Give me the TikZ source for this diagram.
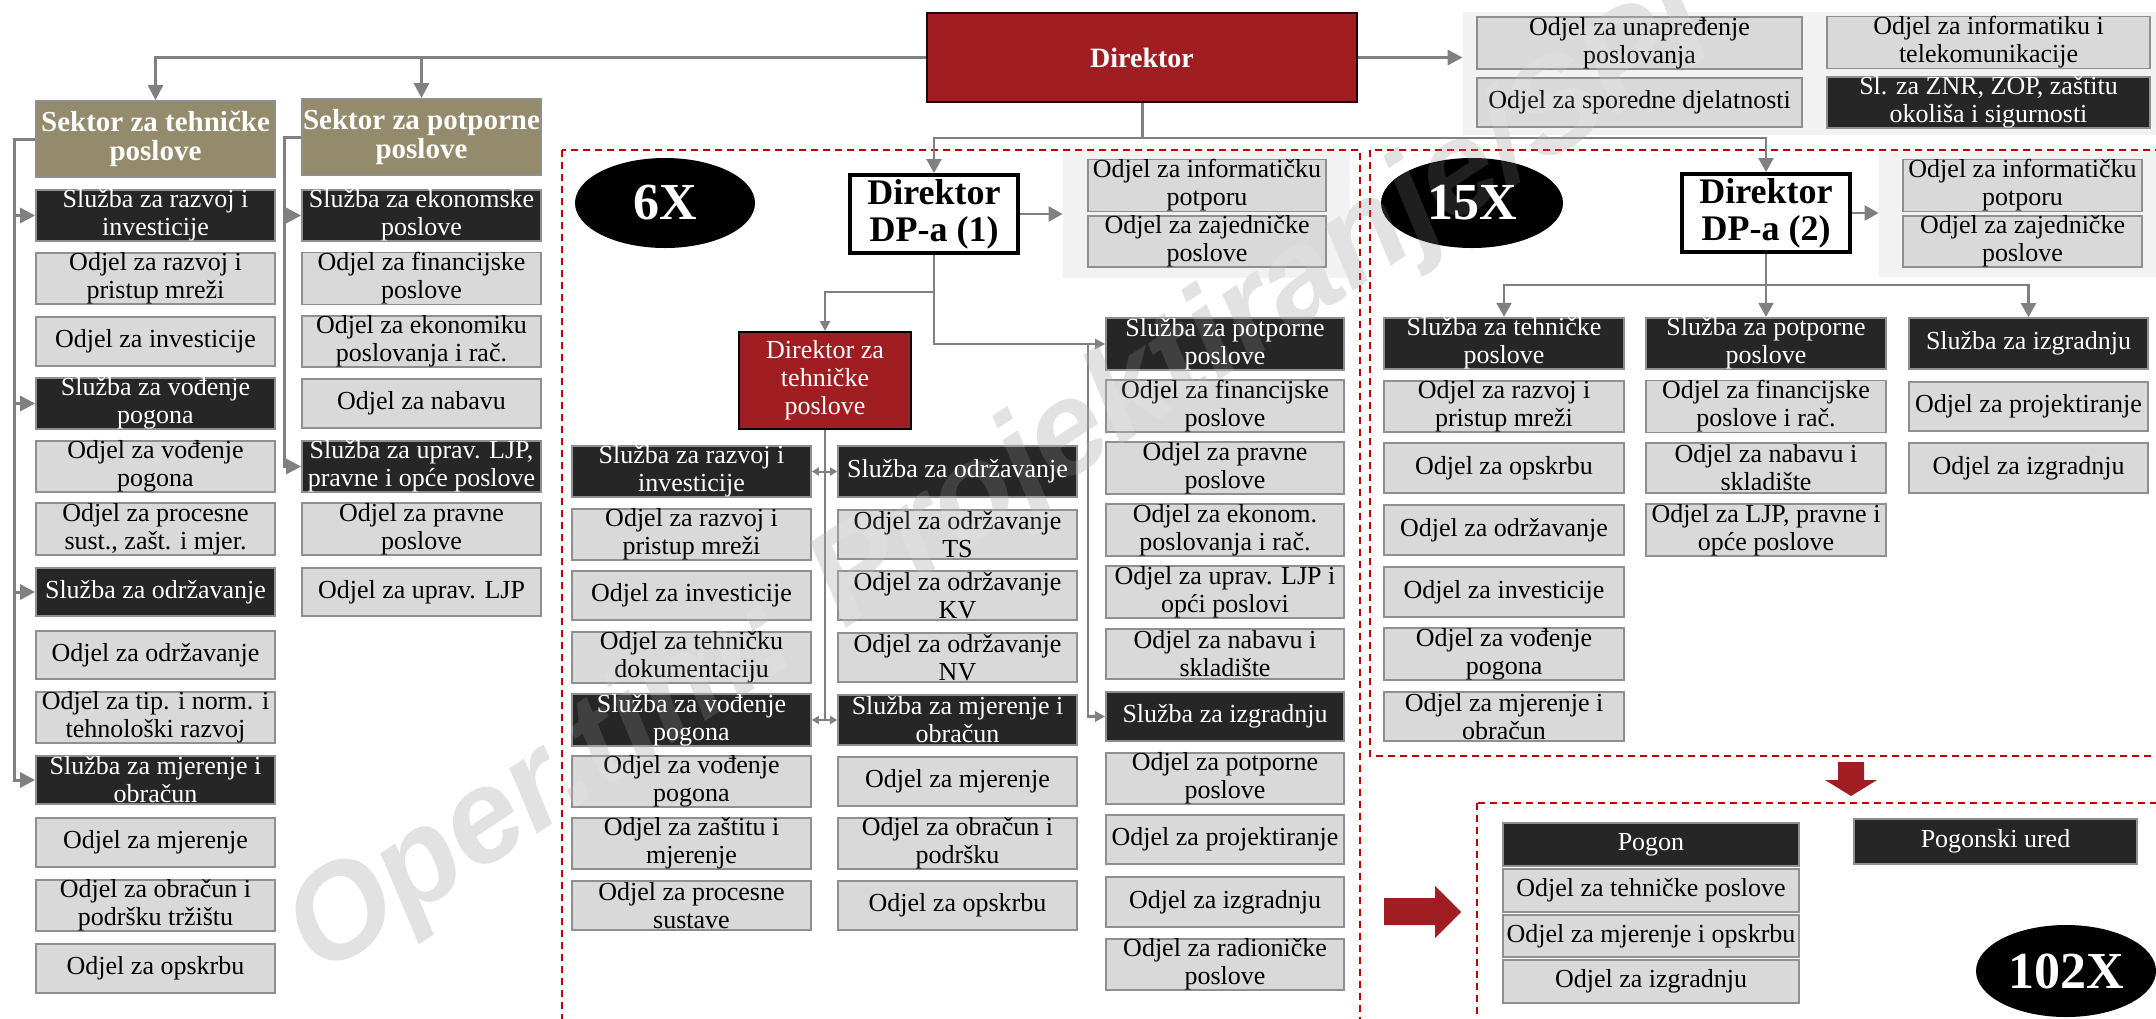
\documentclass[tikz,border=0pt]{standalone}
\usepackage{fontspec}
\setmainfont{Liberation Serif}
\newfontfamily\wmfont{Liberation Sans}
\usetikzlibrary{arrows.meta,shapes.geometric}

\definecolor{brick}{HTML}{A01E21}
\definecolor{darkbox}{HTML}{262626}
\definecolor{lightbox}{HTML}{D9D9D9}
\definecolor{boxline}{HTML}{8F8F8F}
\definecolor{khaki}{HTML}{948A6C}
\definecolor{panelgray}{HTML}{F2F2F2}
\definecolor{linkgray}{HTML}{808080}
\definecolor{dashred}{HTML}{C00000}
\definecolor{wmgray}{HTML}{DEDEDE}

\tikzset{
  box/.style={rectangle, draw=boxline, line width=0.9pt, inner sep=0pt, align=center,
    font=\fontsize{13}{14}\selectfont},
  lbox/.style={box, fill=lightbox, text=black},
  dbox/.style={box, fill=darkbox, text=white},
  kbox/.style={box, fill=khaki, text=white, font=\fontsize{14.5}{14.5}\selectfont\bfseries},
  panel/.style={rectangle, fill=panelgray, draw=none, inner sep=0pt},
  topbox/.style={rectangle, fill=brick, draw=black!80!brick, line width=0.8pt, inner sep=0pt,
    text=white, font=\fontsize{14}{14}\selectfont\bfseries},
  redbox/.style={rectangle, fill=brick, draw=black, line width=1pt, inner sep=0pt, align=center,
    text=white, font=\fontsize{13}{14}\selectfont},
  dpbox/.style={rectangle, fill=white, draw=black, line width=2pt, inner sep=0pt, align=center,
    font=\fontsize{18}{18.5}\selectfont\bfseries},
  badge/.style={ellipse, fill=black, inner sep=0pt, text=white,
    font=\fontsize{26}{26}\selectfont\bfseries},
  conn/.style={draw=linkgray, line width=1.5pt, -{Triangle[length=7.5pt,width=7.5pt]}},
  connline/.style={draw=linkgray, line width=1.5pt},
  conn2/.style={draw=linkgray, line width=1.2pt, -{Triangle[length=7pt,width=7.5pt]}},
  conns/.style={draw=linkgray, line width=1.2pt, -{Triangle[length=5pt,width=5pt]}},
  conn2line/.style={draw=linkgray, line width=1.2pt},
  twoway/.style={draw=linkgray, line width=1pt,
    {Triangle[length=3.5pt,width=4pt]}-{Triangle[length=3.5pt,width=4pt]}},
  reddash/.style={draw=dashred, line width=0.75pt, dash pattern=on 3.5pt off 2.5pt},
  blockarrow/.style={fill=brick, draw=none},
  wm/.style={anchor=base, rotate=33.6, inner sep=0pt,
    font=\wmfont\fontsize{66}{66}\selectfont\bfseries\itshape},
}

% box given by its corners (x1,y1) (x2,y2) in picture units
\newcommand\bx[7]{%
  \pgfmathsetmacro\bxw{(#5-#3)*0.5}%
  \pgfmathsetmacro\bxh{(#6-#4)*0.5}%
  \node[#1, minimum width=\bxw pt, minimum height=\bxh pt] (#2) at ({(#3+#5)/2},{(#4+#6)/2}) {#7};}

\begin{document}
\begin{tikzpicture}[x=0.5pt,y=-0.5pt]
\useasboundingbox (0,0) rectangle (2156,1018);
\clip (0,0) rectangle (2156,1018);
\fill[white] (0,0) rectangle (2156,1018);

% light panels behind side departments
\bx{panel}{pan1}{1463}{12}{2156}{135}{}
\bx{panel}{pan2}{1063}{150}{1350}{278}{}
\bx{panel}{pan3}{1879}{152}{2156}{277}{}

% watermark, lower layer
\node[wm, text=wmgray] (wmark) at (1020,513) {Oper.tim: Projektiranje/SPI};

% headquarters
\bx{topbox}{dir}{927}{13}{1357}{102}{Direktor}
\bx{lbox}{t1}{1477}{18}{1802}{68}{Odjel za unapređenje\\poslovanja}
\bx{lbox}{t2}{1477}{78}{1802}{127}{Odjel za sporedne djelatnosti}
\bx{lbox}{t3}{1827}{18}{2150}{67}{Odjel za informatiku i\\telekomunikacije}
\bx{dbox}{t4}{1827}{78}{2150}{127}{Sl. za ZNR, ZOP, zaštitu\\okoliša i sigurnosti}

% technical sector
\bx{kbox}{sekt}{36}{101}{275}{177}{Sektor za tehničke\\poslove}
\bx{dbox}{lt1}{36}{191}{275}{240}{Služba za razvoj i\\investicije}
\bx{lbox}{lt2}{36}{254}{275}{303}{Odjel za razvoj i\\pristup mreži}
\bx{lbox}{lt3}{36}{317}{275}{366}{Odjel za investicije}
\bx{dbox}{lt4}{36}{379}{275}{428}{Služba za vođenje\\pogona}
\bx{lbox}{lt5}{36}{442}{275}{491}{Odjel za vođenje\\pogona}
\bx{lbox}{lt6}{36}{505}{275}{553}{Odjel za procesne\\sust., zašt. i mjer.}
\bx{dbox}{lt7}{36}{568}{275}{616}{Služba za održavanje}
\bx{lbox}{lt8}{36}{631}{275}{679}{Odjel za održavanje}
\bx{lbox}{lt9}{36}{693}{275}{742}{Odjel za tip. i norm. i\\tehnološki razvoj}
\bx{dbox}{lt10}{36}{756}{275}{804}{Služba za mjerenje i\\obračun}
\bx{lbox}{lt11}{36}{818}{275}{867}{Odjel za mjerenje}
\bx{lbox}{lt12}{36}{881}{275}{930}{Odjel za obračun i\\podršku tržištu}
\bx{lbox}{lt13}{36}{944}{275}{993}{Odjel za opskrbu}

% support sector
\bx{kbox}{sekp}{302}{99}{541}{175}{Sektor za potporne\\poslove}
\bx{dbox}{lp1}{302}{191}{541}{240}{Služba za ekonomske\\poslove}
\bx{lbox}{lp2}{302}{254}{541}{303}{Odjel za financijske\\poslove}
\bx{lbox}{lp3}{302}{317}{541}{366}{Odjel za ekonomiku\\poslovanja i rač.}
\bx{lbox}{lp4}{302}{379}{541}{428}{Odjel za nabavu}
\bx{dbox}{lp5}{302}{442}{541}{491}{Služba za uprav. LJP,\\pravne i opće poslove}
\bx{lbox}{lp6}{302}{505}{541}{553}{Odjel za pravne\\poslove}
\bx{lbox}{lp7}{302}{568}{541}{616}{Odjel za uprav. LJP}

% distribution area, type 1
\node[badge, minimum width=90pt, minimum height=45pt] (e6) at (665,203) {6X};
\bx{dpbox}{dp1}{850}{175}{1018}{253}{Direktor\\DP-a (1)}
\bx{lbox}{m1}{1088}{161}{1326}{210}{Odjel za informatičku\\potporu}
\bx{lbox}{m2}{1088}{217}{1326}{266}{Odjel za zajedničke\\poslove}
\bx{redbox}{dtp}{739}{332}{911}{429}{Direktor za\\tehničke\\poslove}

\bx{dbox}{a1}{572}{446}{811}{497}{Služba za razvoj i\\investicije}
\bx{lbox}{a2}{572}{510}{811}{559}{Odjel za razvoj i\\pristup mreži}
\bx{lbox}{a3}{572}{571}{811}{620}{Odjel za investicije}
\bx{lbox}{a4}{572}{633}{811}{682}{Odjel za tehničku\\dokumentaciju}
\bx{dbox}{a5}{572}{695}{811}{745}{Služba za vođenje\\pogona}
\bx{lbox}{a6}{572}{757}{811}{806}{Odjel za vođenje\\pogona}
\bx{lbox}{a7}{572}{819}{811}{868}{Odjel za zaštitu i\\mjerenje}
\bx{lbox}{a8}{572}{881}{811}{930}{Odjel za procesne\\sustave}

\bx{dbox}{b1}{838}{446}{1077}{497}{Služba za održavanje}
\bx{lbox}{b2}{838}{510}{1077}{559}{Odjel za održavanje\\TS}
\bx{lbox}{b3}{838}{571}{1077}{620}{Odjel za održavanje\\KV}
\bx{lbox}{b4}{838}{633}{1077}{682}{Odjel za održavanje\\NV}
\bx{dbox}{b5}{838}{695}{1077}{745}{Služba za mjerenje i\\obračun}
\bx{lbox}{b6}{838}{757}{1077}{806}{Odjel za mjerenje}
\bx{lbox}{b7}{838}{819}{1077}{868}{Odjel za obračun i\\podršku}
\bx{lbox}{b8}{838}{881}{1077}{930}{Odjel za opskrbu}

\bx{dbox}{c0}{1106}{319}{1344}{369}{Služba za potporne\\poslove}
\bx{lbox}{c1}{1106}{381}{1344}{431}{Odjel za financijske\\poslove}
\bx{lbox}{c2}{1106}{443}{1344}{493}{Odjel za pravne\\poslove}
\bx{lbox}{c3}{1106}{505}{1344}{555}{Odjel za ekonom.\\poslovanja i rač.}
\bx{lbox}{c4}{1106}{567}{1344}{617}{Odjel za uprav. LJP i\\opći poslovi}
\bx{lbox}{c5}{1106}{629}{1344}{679}{Odjel za nabavu i\\skladište}
\bx{dbox}{c6}{1106}{692}{1344}{741}{Služba za izgradnju}
\bx{lbox}{c7}{1106}{754}{1344}{803}{Odjel za potporne\\poslove}
\bx{lbox}{c8}{1106}{815}{1344}{864}{Odjel za projektiranje}
\bx{lbox}{c9}{1106}{877}{1344}{927}{Odjel za izgradnju}
\bx{lbox}{c10}{1106}{940}{1344}{989}{Odjel za radioničke\\poslove}

% distribution area, type 2
\node[badge, minimum width=91pt, minimum height=45pt] (e15) at (1472,203) {15X};
\bx{dpbox}{dp2}{1682}{174}{1850}{252}{Direktor\\DP-a (2)}
\bx{lbox}{r1}{1903}{161}{2142}{210}{Odjel za informatičku\\potporu}
\bx{lbox}{r2}{1903}{217}{2142}{266}{Odjel za zajedničke\\poslove}

\bx{dbox}{d0}{1384}{318}{1624}{369}{Služba za tehničke\\poslove}
\bx{lbox}{d1}{1384}{382}{1624}{431}{Odjel za razvoj i\\pristup mreži}
\bx{lbox}{d2}{1384}{443}{1624}{493}{Odjel za opskrbu}
\bx{lbox}{d3}{1384}{505}{1624}{555}{Odjel za održavanje}
\bx{lbox}{d4}{1384}{567}{1624}{617}{Odjel za investicije}
\bx{lbox}{d5}{1384}{629}{1624}{679}{Odjel za vođenje\\pogona}
\bx{lbox}{d6}{1384}{692}{1624}{741}{Odjel za mjerenje i\\obračun}

\bx{dbox}{e0}{1646}{318}{1886}{369}{Služba za potporne\\poslove}
\bx{lbox}{e1}{1646}{382}{1886}{431}{Odjel za financijske\\poslove i rač.}
\bx{lbox}{e2}{1646}{443}{1886}{493}{Odjel za nabavu i\\skladište}
\bx{lbox}{e3}{1646}{505}{1886}{555}{Odjel za LJP, pravne i\\opće poslove}

\bx{dbox}{f0}{1909}{318}{2148}{369}{Služba za izgradnju}
\bx{lbox}{f1}{1909}{382}{2148}{431}{Odjel za projektiranje}
\bx{lbox}{f2}{1909}{443}{2148}{493}{Odjel za izgradnju}

% plant level
\bx{dbox}{pg}{1503}{823}{1799}{866}{Pogon}
\bx{lbox}{g1}{1503}{869}{1799}{912}{Odjel za tehničke poslove}
\bx{lbox}{g2}{1503}{915}{1799}{957}{Odjel za mjerenje i opskrbu}
\bx{lbox}{g3}{1503}{960}{1799}{1003}{Odjel za izgradnju}
\bx{dbox}{pu}{1854}{819}{2137}{864}{Pogonski ured}
\node[badge, minimum width=90pt, minimum height=46pt] (e102) at (2066,971) {102X};

% dashed area frames
\draw[reddash] (562,150) rectangle (1360,1040);
\draw[reddash] (1370,150) rectangle (2180,756);
\draw[reddash] (1477,803) rectangle (2180,1040);

% block arrows
\fill[blockarrow] (1838,762) -- (1864,762) -- (1864,780) -- (1877,780) -- (1851,796)
  -- (1825,780) -- (1838,780) -- cycle;
\fill[blockarrow] (1384,898) -- (1435,898) -- (1435,886) -- (1461,912) -- (1435,938)
  -- (1435,925) -- (1384,925) -- cycle;

% connectors from the director
\draw[conn] (dir.west) -| (sekt.north);
\draw[conn] (dir.west -| sekp.north) -- (sekp.north);
\draw[conn] (dir.east) -- (dir.east -| pan1.west);
\coordinate (jd) at (1142,138);
\draw[connline] (dir.south) -- (jd);
\draw[conn2] (jd) -| (dp1.north);
\draw[conn2] (jd) -| (dp2.north);

% technical sector services
\coordinate (lt) at (14,139);
\draw[conn] (sekt.west) -- (lt) |- (lt10.west);
\foreach \s in {lt1,lt4,lt7} \draw[conn] (lt |- \s.west) -- (\s.west);

% support sector services
\coordinate (pt) at (284,137);
\draw[conn] (sekp.west) -- (pt) |- (lp5.west);
\draw[conn] (pt |- lp1.west) -- (lp1.west);

% DP-a (1)
\draw[conn2] (dp1.east) -- (dp1.east -| pan2.west);
\coordinate (jt) at (934,292);
\coordinate (jc) at (1088,344);
\draw[conns] (dp1.south) |- (c0.west);
\draw[conns] (jt) -| (dtp.north);
\draw[conns] (jc) |- (c6.west);
\draw[conn2line] (dtp.south) -- (dtp.south |- a5.east);
\draw[twoway] (a1.east) -- (b1.west);
\draw[twoway] (a5.east) -- (b5.west);

% DP-a (2)
\draw[conn2] (dp2.east) -- (dp2.east -| pan3.west);
\coordinate (jr) at (1766,285);
\draw[conn2line] (dp2.south) -- (jr);
\draw[conn2] (jr) -| (d0.north);
\draw[conn2] (jr) -- (e0.north);
\draw[conn2] (jr) -| (f0.north);

% watermark, translucent top layer
\node[wm, text=white, opacity=0.12] (wmarktop) at (1020,513) {Oper.tim: Projektiranje/SPI};
\end{tikzpicture}
\end{document}
